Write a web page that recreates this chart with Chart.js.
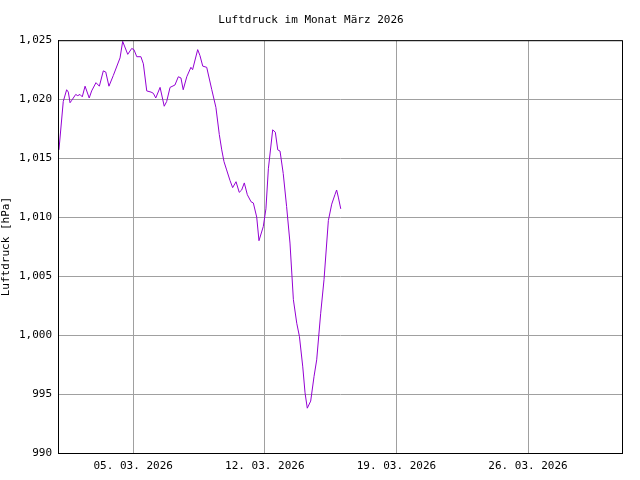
<!DOCTYPE html>
<html lang="de">
<head>
<meta charset="UTF-8">
<title>Luftdruck</title>
<script src="https://cdn.jsdelivr.net/npm/chart.js"></script>
<style>body{margin:0;background:#fff}</style>
</head>
<body>
<canvas id="c" width="640" height="480"></canvas>
<script>
// Zeitpunkt als Tag im März (1.0 = 01.03. 00:00)
const days = [1.05,1.28,1.46,1.55,1.64,1.73,1.94,2.05,2.17,2.29,2.44,2.66,2.79,3.02,3.20,3.41,3.54,3.71,3.94,4.30,4.44,4.71,4.92,5.04,5.19,5.41,5.54,5.72,5.95,6.07,6.20,6.43,6.65,6.78,6.96,7.22,7.40,7.54,7.66,7.85,8.07,8.16,8.43,8.55,8.70,8.91,9.18,9.40,9.58,9.71,9.83,9.97,10.15,10.29,10.47,10.64,10.77,10.91,11.07,11.27,11.39,11.57,11.69,11.92,12.06,12.19,12.42,12.56,12.69,12.81,12.98,13.16,13.34,13.52,13.70,13.84,14.02,14.14,14.26,14.44,14.62,14.76,14.97,15.15,15.38,15.56,15.73,15.82,15.91,16.04];
const pressure = [1015.7,1019.8,1020.8,1020.6,1019.7,1019.9,1020.4,1020.3,1020.4,1020.2,1021.1,1020.1,1020.7,1021.4,1021.1,1022.4,1022.3,1021.1,1022.0,1023.5,1024.9,1023.8,1024.3,1024.2,1023.6,1023.6,1023.0,1020.7,1020.6,1020.5,1020.1,1021.0,1019.4,1019.8,1021.0,1021.2,1021.9,1021.8,1020.8,1021.9,1022.7,1022.5,1024.2,1023.7,1022.8,1022.7,1020.8,1019.3,1017.0,1015.7,1014.7,1014.0,1013.1,1012.5,1013.0,1012.1,1012.3,1012.9,1011.9,1011.3,1011.2,1010.0,1008.0,1009.2,1010.7,1014.1,1017.4,1017.2,1015.7,1015.6,1013.7,1010.9,1007.8,1003.0,1001.0,999.9,997.3,995.1,993.8,994.4,996.5,997.9,1001.8,1004.7,1009.7,1011.1,1011.9,1012.3,1011.7,1010.7];
const tickDays = [5, 12, 19, 26];
const tickLabels = ['05. 03. 2026', '12. 03. 2026', '19. 03. 2026', '26. 03. 2026'];

const mono = 'DejaVu Sans Mono, Liberation Mono, monospace';
const grid = { color: '#a0a0a0', borderDash: [2, 3], drawTicks: false };

new Chart(document.getElementById('c'), {
    type: 'line',
    data: {
        datasets: [{
            data: days.map((d, i) => ({ x: d, y: pressure[i] })),
            borderColor: '#9400d3',
            borderWidth: 1,
            pointRadius: 0,
            tension: 0,
            fill: false
        }]
    },
    options: {
        responsive: false,
        animation: false,
        layout: { padding: { right: 18 } },
        plugins: {
            legend: { display: false },
            tooltip: { enabled: false },
            title: {
                display: true,
                text: 'Luftdruck im Monat März 2026',
                color: '#000',
                font: { family: mono, size: 11, weight: 'normal' },
                padding: { top: 14, bottom: 13 }
            }
        },
        scales: {
            x: {
                type: 'linear',
                min: 1, max: 31,
                grid: grid,
                border: { color: '#000', width: 1 },
                afterBuildTicks: s => { s.ticks = tickDays.map(v => ({ value: v })); },
                afterFit: s => { s.height = 27; },
                ticks: {
                    color: '#000', padding: 7, maxRotation: 0,
                    font: { family: mono, size: 11 },
                    callback: v => tickLabels[tickDays.indexOf(v)]
                }
            },
            y: {
                min: 990, max: 1025,
                grid: grid,
                border: { color: '#000', width: 1 },
                afterFit: s => { s.width = 58; },
                ticks: {
                    stepSize: 5, color: '#000', padding: 6,
                    font: { family: mono, size: 11 }
                },
                title: {
                    display: true,
                    text: 'Luftdruck [hPa]',
                    color: '#000',
                    font: { family: mono, size: 11 },
                    padding: 0
                }
            }
        }
    },
    plugins: [{
        id: 'box',
        afterDraw(chart) {
            const { ctx, chartArea: a } = chart;
            ctx.save();
            ctx.strokeStyle = '#000';
            ctx.lineWidth = 1;
            ctx.strokeRect(a.left + 0.5, a.top + 0.5, a.right - a.left, a.bottom - a.top);
            ctx.restore();
        }
    }]
});
</script>
</body>
</html>
